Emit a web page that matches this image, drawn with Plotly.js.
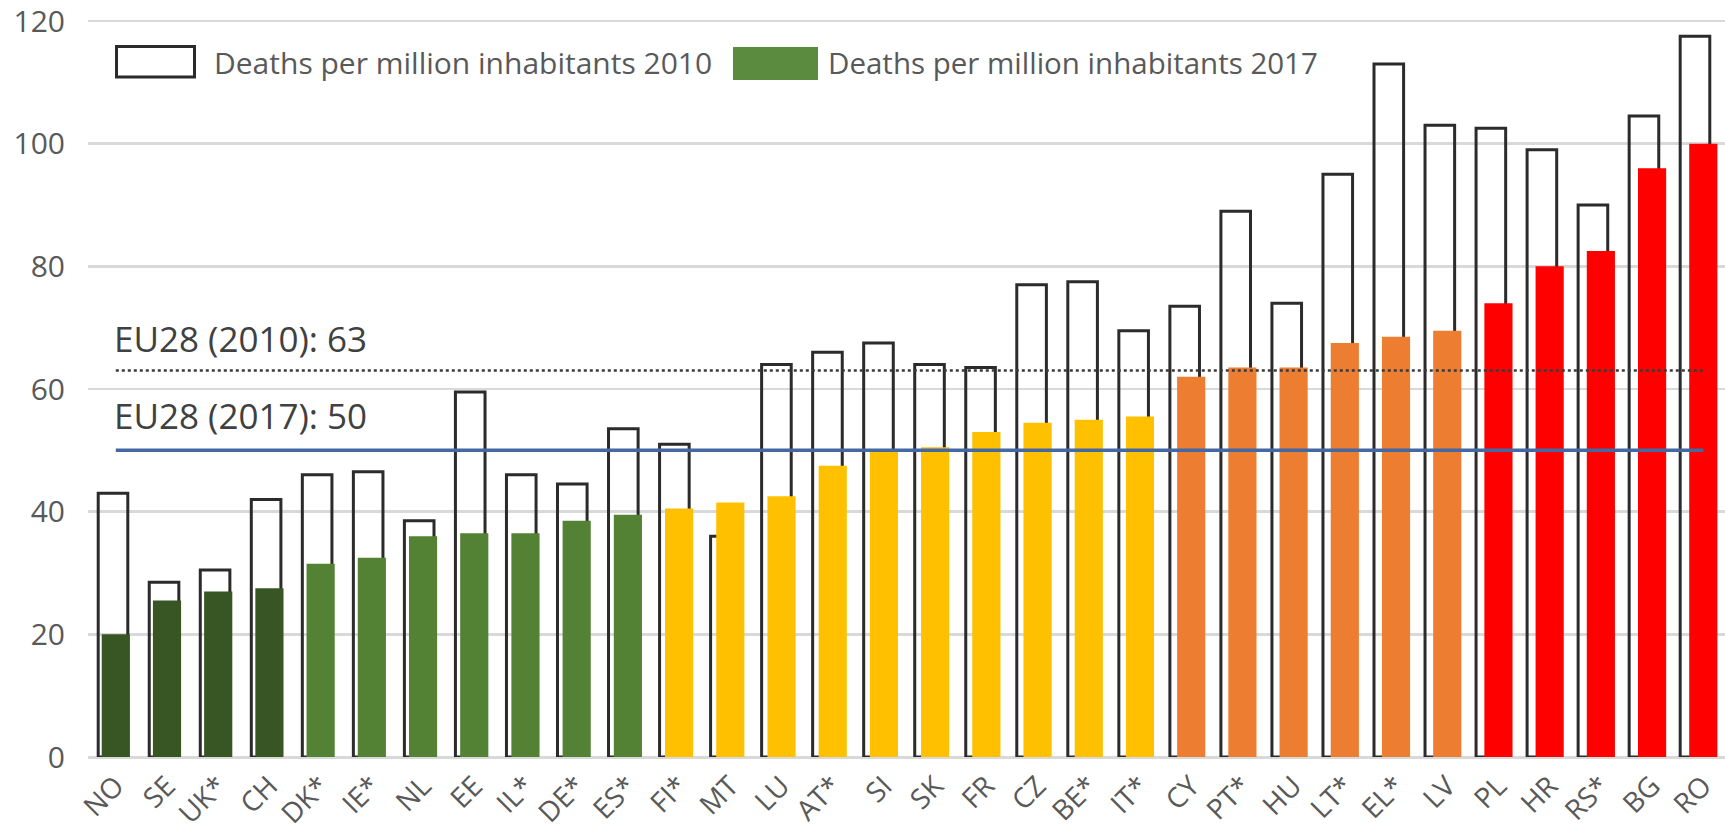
<!DOCTYPE html>
<html>
<head>
<meta charset="utf-8">
<script src="https://cdn.plot.ly/plotly-3.0.1.min.js"></script>
<style>html,body{margin:0;padding:0;background:#fff;}#chart{width:1725px;height:831px;}</style>
</head>
<body>
<div id="chart"></div>
<script>
// ---- data ----
const countries = ['NO','SE','UK*','CH','DK*','IE*','NL','EE','IL*','DE*','ES*','FI*','MT','LU','AT*','SI','SK','FR','CZ','BE*','IT*','CY','PT*','HU','LT*','EL*','LV','PL','HR','RS*','BG','RO'];
const deaths2010 = [43, 28.5, 30.5, 42, 46, 46.5, 38.5, 59.5, 46, 44.5, 53.5, 51, 36, 64, 66, 67.5, 64, 63.5, 77, 77.5, 69.5, 73.5, 89, 74, 95, 113, 103, 102.5, 99, 90, 104.5, 117.5];
const deaths2017 = [20, 25.5, 27, 27.5, 31.5, 32.5, 36, 36.5, 36.5, 38.5, 39.5, 40.5, 41.5, 42.5, 47.5, 50, 50.5, 53, 54.5, 55, 55.5, 62, 63.5, 63.5, 67.5, 68.5, 69.5, 74, 80, 82.5, 96, 100];
const groups = [0,0,0,0,1,1,1,1,1,1,1,2,2,2,2,2,2,2,2,2,2,3,3,3,3,3,3,4,4,4,4,4];
const eu28_2010 = 63;
const eu28_2017 = 50;
const seriesNames = ['Deaths per million inhabitants 2010', 'Deaths per million inhabitants 2017'];
const yTicks = [0, 20, 40, 60, 80, 100, 120];

// ---- style ----
const groupColors = ['#375623', '#548235', '#FFC000', '#ED7D31', '#FF0000'];
const legendGreen = '#5B8B3F';
const W = 1725, H = 831;
const M = {l: 88, r: 0, t: 15, b: 74};
const PW = W - M.l - M.r, PH = H - M.t - M.b;
const PX_PER_UNIT = 736 / 120;
const yTop = PH / PX_PER_UNIT;
const px = x => (x - M.l) / PW;
const py = y => (H - M.b - y) / PH;
const FONT = '"Open Sans", "Noto Sans", sans-serif';

const traces = [
  {
    type: 'bar', name: seriesNames[0], x: countries, y: deaths2010,
    xaxis: 'x', yaxis: 'y', width: 0.58,
    marker: {color: 'rgba(255,255,255,0)', line: {color: '#2b2b2b', width: 3}},
    hoverinfo: 'skip', showlegend: false
  },
  {
    type: 'bar', name: seriesNames[1], x: countries, y: deaths2017,
    xaxis: 'x2', yaxis: 'y', width: 0.55,
    marker: {color: groups.map(g => groupColors[g]), line: {width: 0}},
    hoverinfo: 'skip', showlegend: false
  },
  {
    type: 'scatter', mode: 'lines', x: [countries[0], countries[countries.length - 1]],
    y: [eu28_2010, eu28_2010], xaxis: 'x2', yaxis: 'y',
    line: {color: '#3a3a3a', width: 2.5, dash: 'dot'}, hoverinfo: 'skip', showlegend: false
  },
  {
    type: 'scatter', mode: 'lines', x: [countries[0], countries[countries.length - 1]],
    y: [eu28_2017, eu28_2017], xaxis: 'x2', yaxis: 'y',
    line: {color: '#4468A1', width: 3.5}, hoverinfo: 'skip', showlegend: false
  }
];

const layout = {
  width: W, height: H,
  margin: M,
  paper_bgcolor: '#fff', plot_bgcolor: '#fff',
  font: {family: FONT, color: '#595959'},
  barmode: 'overlay',
  showlegend: false,
  xaxis: {
    type: 'category', categoryorder: 'array', categoryarray: countries,
    range: [-0.49, 31.588], showticklabels: false, showgrid: false, zeroline: false,
    showline: false, ticks: '', fixedrange: true
  },
  xaxis2: {
    type: 'category', categoryorder: 'array', categoryarray: countries,
    overlaying: 'x', side: 'bottom',
    range: [-0.5428, 31.424], showgrid: false, zeroline: false, showline: false, ticks: '',
    tickangle: -45, ticklabelstandoff: 6,
    tickfont: {size: 28, color: '#595959', family: FONT}, fixedrange: true
  },
  yaxis: {
    range: [0, yTop], tickmode: 'array', tickvals: yTicks, ticktext: yTicks.map(String),
    showgrid: true, gridcolor: '#d9d9d9', gridwidth: 2.5,
    zeroline: true, zerolinecolor: '#d9d9d9', zerolinewidth: 3,
    showline: false, ticks: '', ticklabelstandoff: 22, ticklabeloverflow: 'allow',
    tickfont: {size: 30, color: '#595959', family: FONT}, fixedrange: true
  },
  shapes: [
    {type: 'rect', xref: 'paper', yref: 'paper', x0: px(116.5), x1: px(194.5), y0: py(77), y1: py(46.5),
     fillcolor: 'rgba(0,0,0,0)', line: {color: '#2b2b2b', width: 3}},
    {type: 'rect', xref: 'paper', yref: 'paper', x0: px(733), x1: px(818), y0: py(80), y1: py(47),
     fillcolor: legendGreen, line: {width: 0}}
  ],
  annotations: [
    {xref: 'paper', yref: 'paper', x: px(212), y: py(62), xanchor: 'left', yanchor: 'middle',
     text: seriesNames[0], showarrow: false, font: {size: 30, color: '#595959', family: FONT}},
    {xref: 'paper', yref: 'paper', x: px(826), y: py(62), xanchor: 'left', yanchor: 'middle',
     text: seriesNames[1], showarrow: false, font: {size: 29.5, color: '#595959', family: FONT}},
    {xref: 'paper', yref: 'paper', x: px(112), y: py(338), xanchor: 'left', yanchor: 'middle',
     text: 'EU28 (2010): ' + eu28_2010, showarrow: false, font: {size: 35, color: '#404040', family: FONT}},
    {xref: 'paper', yref: 'paper', x: px(112), y: py(416), xanchor: 'left', yanchor: 'middle',
     text: 'EU28 (2017): ' + eu28_2017, showarrow: false, font: {size: 35, color: '#404040', family: FONT}}
  ]
};

Plotly.newPlot('chart', traces, layout, {displayModeBar: false, staticPlot: true});
</script>
</body>
</html>
